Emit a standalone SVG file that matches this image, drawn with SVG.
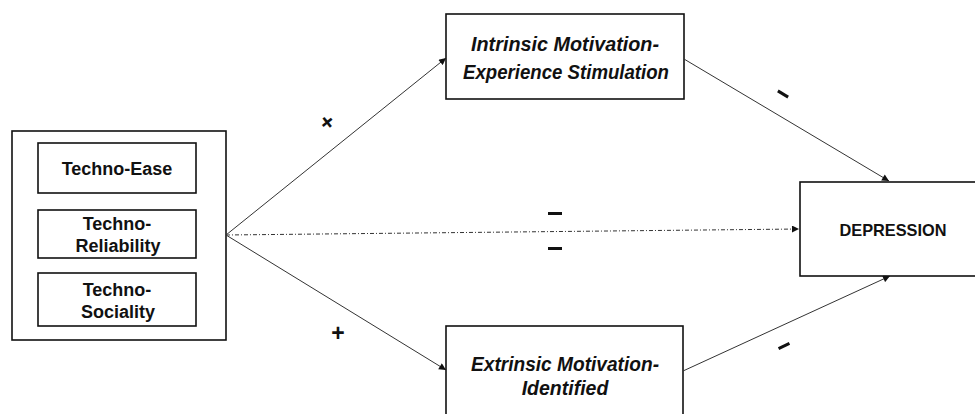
<svg xmlns="http://www.w3.org/2000/svg" width="975" height="414" viewBox="0 0 975 414">
<defs>
<marker id="ah" viewBox="0 0 10 10" refX="10" refY="5" markerWidth="9" markerHeight="7" markerUnits="userSpaceOnUse" orient="auto">
<path d="M0,0 L10,5 L0,10 Z" fill="#111"/>
</marker>
<style>
.box{fill:#fff;stroke:#111;stroke-width:1.6}
.t{font-family:"Liberation Sans",Arial,sans-serif;font-weight:bold;fill:#111;text-anchor:middle}
.ti{font-family:"Liberation Sans",Arial,sans-serif;font-weight:bold;font-style:italic;fill:#111;text-anchor:middle;font-size:19.5px}
.c{fill:none;stroke:#333;stroke-width:1}
.sign{font-family:"Liberation Sans",Arial,sans-serif;font-weight:bold;fill:#111;text-anchor:middle;font-size:23px}
</style>
</defs>
<rect width="975" height="414" fill="#fff"/>
<g id="techno">
<rect class="box" x="12" y="131" width="214" height="209"/>
<g id="techno-ease">
<rect class="box" x="38" y="143" width="158" height="50"/>
<text class="t" x="117" y="175" font-size="18">Techno-Ease</text>
</g>
<g id="techno-reliability">
<rect class="box" x="38" y="210" width="158" height="48"/>
<text class="t" x="117" y="230" font-size="18">Techno-</text>
<text class="t" x="118" y="252" font-size="18">Reliability</text>
</g>
<g id="techno-sociality">
<rect class="box" x="38" y="273" width="158" height="53"/>
<text class="t" x="117" y="296" font-size="18">Techno-</text>
<text class="t" x="118" y="318" font-size="18">Sociality</text>
</g>
</g>
<g id="intrinsic">
<rect class="box" x="446" y="14" width="238" height="85"/>
<text class="ti" x="565" y="51" textLength="188" lengthAdjust="spacingAndGlyphs">Intrinsic Motivation-</text>
<text class="ti" x="566" y="79" textLength="206" lengthAdjust="spacingAndGlyphs">Experience Stimulation</text>
</g>
<g id="extrinsic">
<rect class="box" x="446" y="326" width="237" height="100"/>
<text class="ti" x="565" y="371" textLength="188" lengthAdjust="spacingAndGlyphs">Extrinsic Motivation-</text>
<text class="ti" x="565" y="395">Identified</text>
</g>
<g id="depression">
<rect class="box" x="800" y="182" width="180" height="94"/>
<text class="t" x="893" y="236" font-size="17" textLength="107" lengthAdjust="spacingAndGlyphs">DEPRESSION</text>
</g>
<g id="connectors">
<line class="c" x1="226" y1="235" x2="446" y2="58" marker-end="url(#ah)"/>
<line class="c" x1="226" y1="235" x2="446" y2="370" marker-end="url(#ah)"/>
<line class="c" x1="226" y1="235" x2="799" y2="229" stroke-dasharray="4 2 1 2" marker-end="url(#ah)"/>
<line class="c" x1="684" y1="59" x2="889" y2="181" marker-end="url(#ah)"/>
<line class="c" x1="683" y1="371" x2="890" y2="276" marker-end="url(#ah)"/>
</g>
<g id="labels">
<text class="sign" x="327" y="130" transform="rotate(-39 327 122)">+</text>
<text class="sign" x="338" y="341">+</text>
<rect x="548" y="212" width="14" height="3" fill="#111"/>
<rect x="548" y="247" width="14" height="3" fill="#111"/>
<rect x="777" y="92.5" width="12" height="3" fill="#111" transform="rotate(31 783 94)"/>
<rect x="778" y="344.5" width="12" height="3" fill="#111" transform="rotate(-25 784 346)"/>
</g>
</svg>
